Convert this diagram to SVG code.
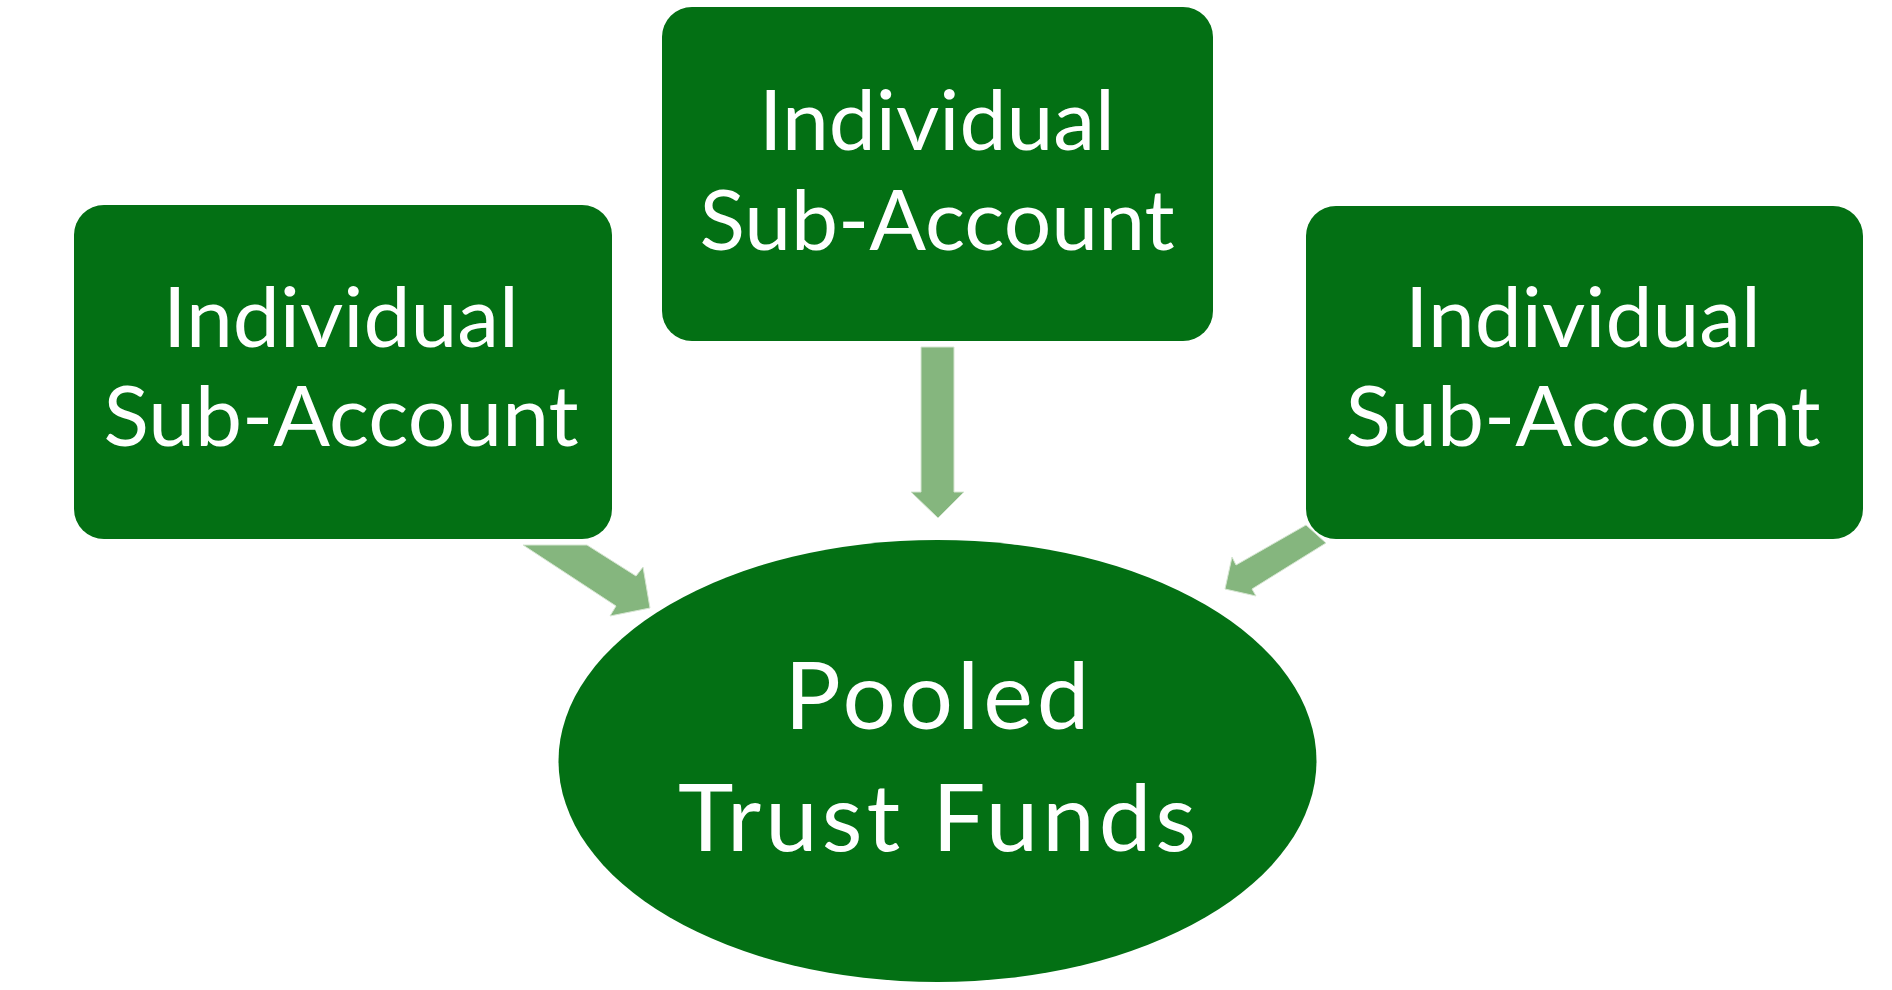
<svg xmlns="http://www.w3.org/2000/svg" width="1892" height="990" viewBox="0 0 1892 990">
<style>
.node{fill:#037014;}
.t{font-family:Lato,"Open Sans",sans-serif;fill:#ffffff;text-anchor:middle;font-size:84px;}
.tb{font-size:94px;letter-spacing:4px;}
.arr{fill:#85b67e;stroke:#d6e6d2;stroke-width:1;}
</style>
<rect width="1892" height="990" fill="#ffffff"/>
<g id="connectors">
<polygon class="arr" points="921,347 954,347 954,492 964,492 938,518 911,492 921,492"/>
<polygon class="arr" points="523,545 587,545 636,576 643,567 650,608 610,616 616,606"/>
<polygon class="arr" points="1306,525 1326,543 1252,589 1256,596 1225,589 1232,557 1236,565"/>
</g>
<g id="node-left">
<rect class="node" x="74" y="205" width="538" height="334" rx="30"/>
<text class="t" x="341" y="347">Individual</text>
<text class="t" x="341" y="446">Sub-Account</text>
</g>
<g id="node-top">
<rect class="node" x="662" y="7" width="551" height="334" rx="30"/>
<text class="t" x="937" y="150">Individual</text>
<text class="t" x="937" y="250">Sub-Account</text>
</g>
<g id="node-right">
<rect class="node" x="1306" y="206" width="557" height="333" rx="30"/>
<text class="t" x="1583" y="347">Individual</text>
<text class="t" x="1583" y="446">Sub-Account</text>
</g>
<g id="node-pooled">
<ellipse class="node" cx="937.5" cy="761" rx="379" ry="221"/>
<text class="t tb" x="939" y="729">Pooled</text>
<text class="t tb" x="939" y="851">Trust Funds</text>
</g>
</svg>
